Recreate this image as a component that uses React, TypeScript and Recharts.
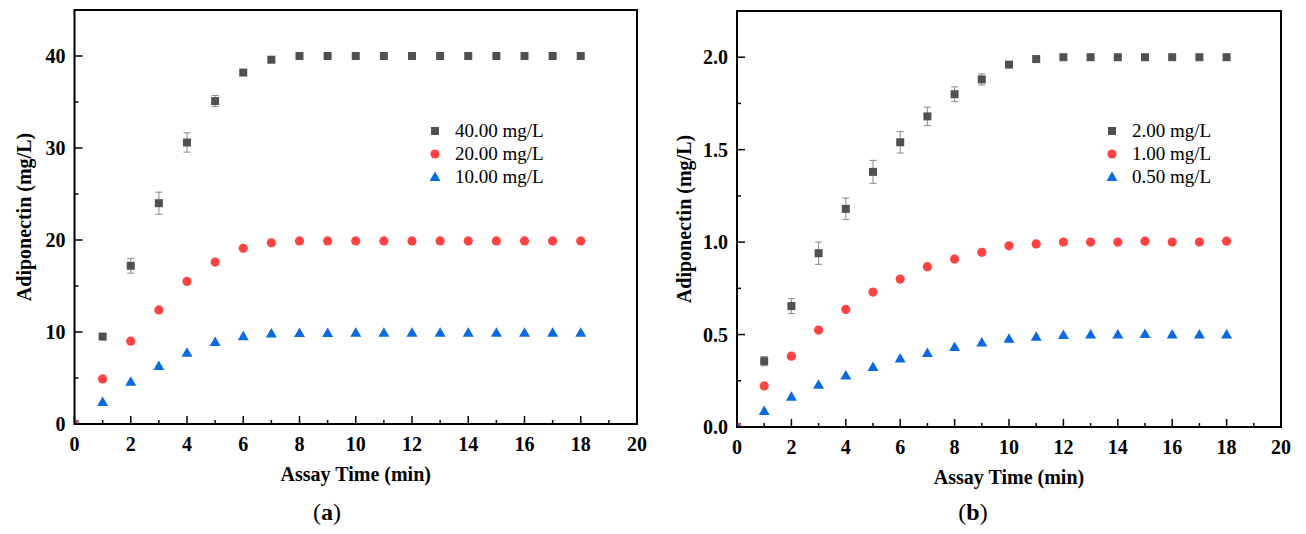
import React from "react";
import {
  ScatterChart,
  Scatter,
  XAxis,
  YAxis,
  ErrorBar,
  ReferenceArea,
  Legend,
} from "recharts";

// assay time points (min)
const timeMin = [0, 1, 2, 3, 4, 5, 6, 7, 8, 9, 10, 11, 12, 13, 14, 15, 16, 17, 18];

// panel (a)
const conc40 = [0, 9.5, 17.2, 24.0, 30.6, 35.1, 38.2, 39.6, 40.0, 40.0, 40.0, 40.0, 40.0, 40.0, 40.0, 40.0, 40.0, 40.0, 40.0];
const conc40Err = [0, 0.2, 0.8, 1.2, 1.05, 0.6, 0.2, 0.2, 0, 0, 0, 0, 0, 0, 0, 0, 0, 0, 0];
const conc20 = [0, 4.9, 9.0, 12.4, 15.5, 17.6, 19.1, 19.7, 19.9, 19.9, 19.9, 19.9, 19.9, 19.9, 19.9, 19.9, 19.9, 19.9, 19.9];
const conc10 = [0, 2.4, 4.6, 6.3, 7.75, 8.9, 9.55, 9.85, 9.9, 9.9, 9.93, 9.93, 9.93, 9.93, 9.93, 9.93, 9.93, 9.93, 9.93];
const seriesA = ["40.00 mg/L", "20.00 mg/L", "10.00 mg/L"];
const yTicksA = [0, 5, 10, 15, 20, 25, 30, 35, 40];

// panel (b)
const conc2 = [0, 0.356, 0.654, 0.94, 1.18, 1.38, 1.54, 1.68, 1.8, 1.88, 1.96, 1.99, 2.0, 2.0, 2.0, 2.0, 2.0, 2.0, 2.0];
const conc2Err = [0, 0.025, 0.04, 0.06, 0.058, 0.062, 0.058, 0.05, 0.04, 0.03, 0.012, 0, 0, 0, 0, 0, 0, 0, 0];
const conc1 = [0, 0.222, 0.383, 0.524, 0.636, 0.73, 0.8, 0.867, 0.908, 0.945, 0.98, 0.99, 1.0, 1.0, 1.0, 1.005, 1.0, 1.0, 1.005];
const conc05 = [0, 0.087, 0.163, 0.228, 0.278, 0.325, 0.37, 0.4, 0.433, 0.457, 0.477, 0.488, 0.497, 0.5, 0.5, 0.503, 0.5, 0.5, 0.5];
const seriesB = ["2.00 mg/L", "1.00 mg/L", "0.50 mg/L"];
const yTicksB = [0, 0.25, 0.5, 0.75, 1.0, 1.25, 1.5, 1.75, 2.0];

const xTicks = [0, 1, 2, 3, 4, 5, 6, 7, 8, 9, 10, 11, 12, 13, 14, 15, 16, 17, 18, 19, 20];

const colors = ["#505050", "#ff4242", "#0a6ae0"];
const shapes = ["square", "circle", "triangle"];

const serif = '"Liberation Serif", "Times New Roman", serif';
const tickFont = { fontFamily: serif, fontWeight: 700, fontSize: 20, fill: "#000" };

const toRows = (vals: number[], errs?: number[]) =>
  timeMin.map((t, i) => ({ x: t, y: vals[i], err: errs ? errs[i] : 0 }));

const Mark = ({ cx, cy, kind, color }: any) => {
  if (kind === "square") return <rect x={cx - 4} y={cy - 4} width={8} height={8} fill={color} />;
  if (kind === "circle") return <circle cx={cx} cy={cy} r={4.6} fill={color} />;
  return <polygon points={`${cx},${cy - 5.5} ${cx - 5.5},${cy + 4} ${cx + 5.5},${cy + 4}`} fill={color} />;
};

const XTick = ({ x, y, payload }: any) => {
  const major = payload.value % 2 === 0;
  return (
    <g>
      <line x1={x} x2={x} y1={y} y2={y - (major ? 8 : 4)} stroke="#000" strokeWidth={1.5} />
      {major && (
        <text x={x} y={y + 20} dy="0.35em" textAnchor="middle" style={tickFont}>
          {payload.value}
        </text>
      )}
    </g>
  );
};

const makeYTick = (step: number, digits: number) => ({ x, y, payload }: any) => {
  const r = payload.value / step;
  const major = Math.abs(r - Math.round(r)) < 1e-6;
  return (
    <g>
      <line x1={x} x2={x + (major ? 8 : 4)} y1={y} y2={y} stroke="#000" strokeWidth={1.5} />
      {major && (
        <text x={x - 9} y={y} dy="0.35em" textAnchor="end" style={tickFont}>
          {payload.value.toFixed(digits)}
        </text>
      )}
    </g>
  );
};

const LegendBox = ({ names }: any) => (
  <div style={{ fontFamily: serif, fontSize: 19, color: "#000" }}>
    {names.map((name: string, i: number) => (
      <div key={name} style={{ display: "flex", alignItems: "center", height: 23 }}>
        <svg width={12} height={12} style={{ marginRight: 14 }}>
          <Mark cx={6} cy={6} kind={shapes[i]} color={colors[i]} />
        </svg>
        <span>{name}</span>
      </div>
    ))}
  </div>
);

const Panel = ({ width, margin, yWidth, yMax, yTicks, yStep, yDigits, names, series, err, legendPos }: any) => {
  const YTick = makeYTick(yStep, yDigits);
  return (
    <ScatterChart width={width} height={534} margin={margin}>
      <XAxis
        type="number"
        dataKey="x"
        domain={[0, 20]}
        ticks={xTicks}
        interval={0}
        allowDataOverflow
        axisLine={false}
        tickLine={false}
        tickSize={0}
        tickMargin={0}
        tick={<XTick />}
        height={30}
        label={{
          value: "Assay Time (min)",
          position: "bottom",
          offset: 13,
          style: { fontFamily: serif, fontWeight: 700, fontSize: 20, fill: "#000" },
        }}
      />
      <YAxis
        type="number"
        dataKey="y"
        domain={[0, yMax]}
        ticks={yTicks}
        interval={0}
        allowDataOverflow
        axisLine={false}
        tickLine={false}
        tickSize={0}
        tickMargin={0}
        tick={<YTick />}
        width={yWidth}
        label={{
          value: "Adiponectin (mg/L)",
          angle: -90,
          position: "insideLeft",
          offset: 24,
          style: { fontFamily: serif, fontWeight: 700, fontSize: 20, fill: "#000", textAnchor: "middle" },
        }}
      />
      <ReferenceArea x1={0} x2={20} y1={0} y2={yMax} fill="none" stroke="#000" strokeWidth={2} />
      {series.map((vals: number[], i: number) => (
        <Scatter
          key={names[i]}
          name={names[i]}
          data={toRows(vals, i === 0 ? err : undefined)}
          fill={colors[i]}
          isAnimationActive={false}
          shape={(p: any) => <Mark cx={p.cx} cy={p.cy} kind={shapes[i]} color={colors[i]} />}
        >
          {i === 0 && <ErrorBar dataKey="err" direction="y" width={3.5} stroke="#8a8a8a" strokeWidth={1} />}
        </Scatter>
      ))}
      <Legend
        layout="vertical"
        align="center"
        verticalAlign="middle"
        content={<LegendBox names={names} />}
        wrapperStyle={{ left: legendPos[0], top: legendPos[1], width: "auto" }}
      />
    </ScatterChart>
  );
};

const App = () => {
  return (
    <div style={{ position: "absolute", left: 0, top: 0, width: 1306, height: 534, background: "#fff" }}>
      <div style={{ position: "absolute", left: 0, top: 0 }}>
        <Panel
          width={660}
          margin={{ top: 10, right: 23, bottom: 80, left: 0 }}
          yWidth={74.5}
          yMax={45}
          yTicks={yTicksA}
          yStep={10}
          yDigits={0}
          names={seriesA}
          series={[conc40, conc20, conc10]}
          err={conc40Err}
          legendPos={[429, 119]}
        />
      </div>
      <div style={{ position: "absolute", left: 660, top: 0 }}>
        <Panel
          width={646}
          margin={{ top: 11, right: 25, bottom: 77, left: 0 }}
          yWidth={77}
          yMax={2.25}
          yTicks={yTicksB}
          yStep={0.5}
          yDigits={1}
          names={seriesB}
          series={[conc2, conc1, conc05]}
          err={conc2Err}
          legendPos={[446, 119]}
        />
      </div>
      <div style={{ position: "absolute", left: 277, top: 497, width: 100, textAlign: "center", fontFamily: serif, fontSize: 24, lineHeight: "30px" }}>
        (<b>a</b>)
      </div>
      <div style={{ position: "absolute", left: 923, top: 497, width: 100, textAlign: "center", fontFamily: serif, fontSize: 24, lineHeight: "30px" }}>
        (<b>b</b>)
      </div>
    </div>
  );
};

export default App;
